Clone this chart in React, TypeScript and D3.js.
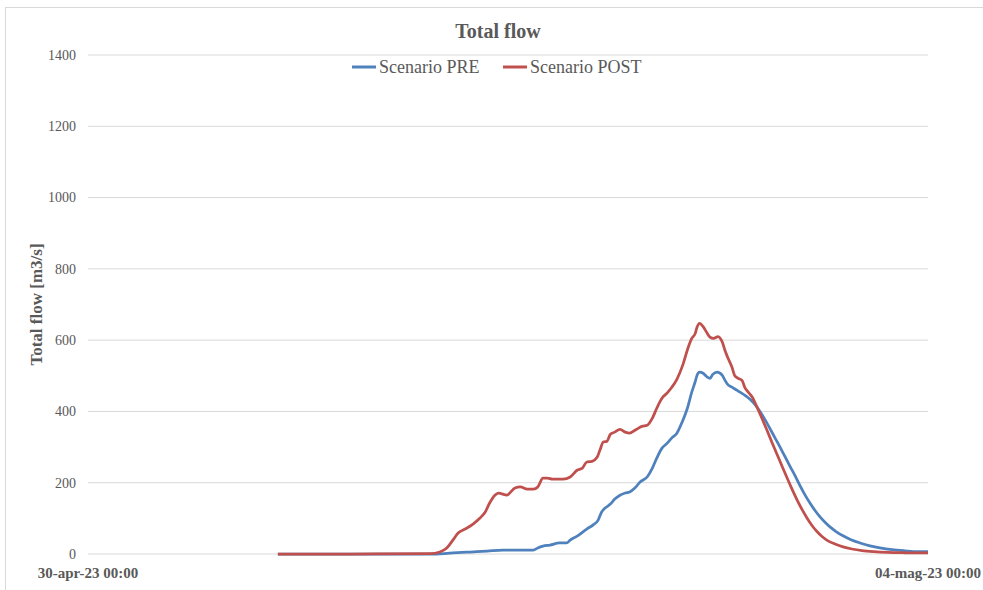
import React from "react";
import * as d3 from "d3";

// Hours elapsed since 30-apr-23 00:00
const preHours = [21.7, 39.9, 40.2, 41.7, 43.7, 45.6, 47.4, 49.4, 50.9, 51.4, 52.0, 52.8, 53.9, 54.7, 55.1, 55.9, 57.0, 57.7, 58.3, 58.7, 59.1, 59.7, 60.2, 60.8, 61.4, 61.9, 62.5, 63.1, 63.9, 64.5, 65.0, 65.6, 66.2, 66.7, 67.3, 67.9, 68.5, 69.0, 69.4, 69.6, 69.9, 70.3, 70.7, 71.1, 71.4, 71.9, 72.5, 72.8, 73.1, 73.6, 74.2, 74.51, 75.09, 75.66, 76.23, 76.8, 77.37, 77.94, 78.51, 79.09, 79.66, 80.23, 80.8, 81.37, 81.94, 82.51, 83.09, 83.66, 84.23, 84.8, 85.49, 86.29, 87.2, 88.23, 89.37, 90.51, 91.89, 93.37, 94.86, 96];
const preFlow = [0, 0, 0.5, 3, 5.6, 8, 11, 11, 11, 17, 22, 25, 31, 31, 39, 50, 70, 81, 95, 118, 129, 140, 154, 165, 171, 174, 185, 202, 216, 241, 269, 297, 311, 325, 339, 370, 409, 454, 484, 501, 510, 507, 498, 493, 504, 510, 501, 487, 476, 468, 459, 454, 445, 434, 419, 400, 377, 352, 326, 300, 273, 246, 220, 192, 166, 143, 122, 104, 89, 76, 63, 51, 40, 31, 23, 17, 12, 9, 7, 7];

const postHours = [21.7, 30, 39.1, 40.2, 41.0, 41.7, 42.3, 43.1, 44.0, 44.8, 45.4, 45.9, 46.5, 46.9, 47.9, 48.2, 48.8, 49.4, 50.2, 50.9, 51.4, 52.0, 52.5, 53.1, 54.3, 55.1, 55.9, 56.5, 57.0, 57.6, 58.2, 58.5, 58.9, 59.3, 59.7, 60.2, 60.8, 61.4, 61.9, 62.5, 63.3, 63.9, 64.5, 65.0, 65.6, 66.2, 66.7, 67.3, 68.0, 68.6, 69.0, 69.4, 69.6, 69.9, 70.3, 70.7, 71.1, 71.5, 72.0, 72.5, 72.8, 73.1, 73.6, 73.9, 74.3, 74.74, 75.09, 75.43, 75.89, 76.46, 77.03, 77.6, 78.17, 78.74, 79.31, 79.89, 80.46, 81.03, 81.6, 82.17, 82.74, 83.31, 83.89, 84.57, 85.37, 86.29, 87.31, 88.46, 89.83, 91.43, 93.37, 96];
const postFlow = [0, 0, 1, 5.6, 16.8, 39, 59, 70, 84, 101, 118, 143, 165, 171, 165, 171, 185, 188, 182, 182, 188, 213, 213, 210, 210, 216, 235, 241, 258, 260, 272, 291, 314, 316, 336, 342, 350, 342, 339, 347, 358, 361, 381, 409, 437, 452, 467, 490, 532, 580, 605, 619, 636, 647, 638, 622, 608, 605, 610, 594, 571, 552, 524, 501, 493, 487, 466, 455, 441, 412, 380, 347, 313, 280, 247, 214, 182, 152, 125, 101, 80, 63, 49, 37, 28, 20, 14, 9.5, 6.5, 4.5, 3.5, 3];

const yTicks = [0, 200, 400, 600, 800, 1000, 1200, 1400];
const xTickLabels = ["30-apr-23 00:00", "04-mag-23 00:00"];
const seriesNames = ["Scenario PRE", "Scenario POST"];
const seriesColors = ["#4F81BD", "#C0504D"];

const startTime = new Date(2023, 3, 30, 0, 0);
const endTime = new Date(2023, 4, 4, 0, 0);
const toDate = (h: number) => new Date(startTime.getTime() + h * 3600 * 1000);

export default function App() {
  const W = 983, H = 590;
  const left = 88, right = 928, top = 55, bottom = 554;
  const x = d3.scaleTime().domain([startTime, endTime]).range([left, right]);
  const y = d3.scaleLinear().domain([0, 1400]).range([bottom, top]);
  const line = d3
    .line<[number, number]>()
    .x((d) => x(toDate(d[0])))
    .y((d) => y(d[1]))
    .curve(d3.curveMonotoneX);

  const series = [
    preHours.map((h, i) => [h, preFlow[i]] as [number, number]),
    postHours.map((h, i) => [h, postFlow[i]] as [number, number]),
  ];
  const font = "'Liberation Serif', 'Times New Roman', serif";
  const xTickDates = [startTime, endTime];

  return (
    <svg width={W} height={H} style={{ position: "absolute", left: 0, top: 0, background: "#fff" }} fontFamily={font}>
      <rect x={5.5} y={7.5} width={1000} height={620} fill="#fff" stroke="#d9d9d9" strokeWidth={1} />
      <text x={498} y={38} textAnchor="middle" fontSize={20} fontWeight="bold" fill="#595959">
        Total flow
      </text>
      {yTicks.map((t) => (
        <g key={t}>
          <line x1={left} x2={right} y1={y(t)} y2={y(t)} stroke="#d9d9d9" strokeWidth={1} />
          <text x={76} y={y(t)} dy="0.35em" textAnchor="end" fontSize={14} fill="#595959">
            {t}
          </text>
        </g>
      ))}
      {xTickDates.map((d, i) => (
        <text key={i} x={x(d)} y={578} textAnchor="middle" fontSize={15} fontWeight="bold" fill="#595959">
          {xTickLabels[i]}
        </text>
      ))}
      <text
        transform={`translate(36,${(top + bottom) / 2}) rotate(-90)`}
        textAnchor="middle"
        dy="0.35em"
        fontSize={17}
        fontWeight="bold"
        fill="#595959"
      >
        Total flow [m3/s]
      </text>
      {series.map((s, i) => (
        <path key={i} d={line(s) || ""} fill="none" stroke={seriesColors[i]} strokeWidth={2.75} strokeLinejoin="round" />
      ))}
      {/* legend */}
      {[352, 503].map((lx, i) => (
        <g key={i}>
          <line x1={lx} x2={lx + 24} y1={67} y2={67} stroke={seriesColors[i]} strokeWidth={3} />
          <text x={lx + 27} y={67} dy="0.35em" fontSize={18} fill="#595959">
            {seriesNames[i]}
          </text>
        </g>
      ))}
    </svg>
  );
}
